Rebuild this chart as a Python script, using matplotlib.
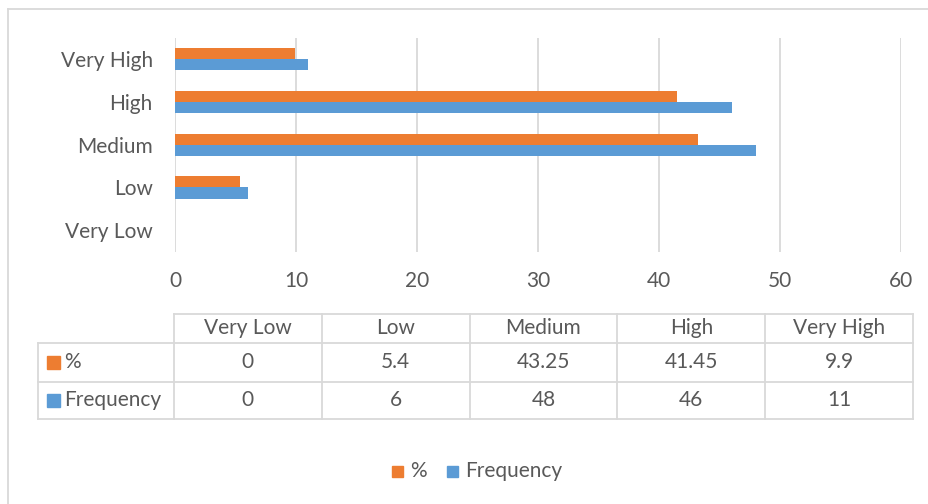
import numpy as np
import matplotlib.pyplot as plt
from matplotlib.patches import Rectangle

categories = ["Very Low", "Low", "Medium", "High", "Very High"]
pct = [0, 5.4, 43.25, 41.45, 9.9]
freq = [0, 6, 48, 46, 11]
pct_labels = ["0", "5.4", "43.25", "41.45", "9.9"]
freq_labels = ["0", "6", "48", "46", "11"]

orange = "#ED7D31"
blue = "#5B9BD5"
grey_txt = "#595959"
grid_c = "#D9D9D9"
plt.rcParams['font.family'] = ['Lato', 'DejaVu Sans']

W, H = 929, 504
fig = plt.figure(figsize=(W / 100, H / 100), dpi=100)

# overlay in pixel coords for frame, table and legend
ov = fig.add_axes([0, 0, 1, 1])
ov.set_xlim(0, W)
ov.set_ylim(H, 0)
ov.axis("off")

fs = 15

ax = fig.add_axes([175 / W, (H - 251.5) / H, 726 / W, 213.5 / H])
y = np.arange(len(categories))
h = 0.26
ax.barh(y + h / 2, pct, height=h, color=orange, zorder=3)
ax.barh(y - h / 2, freq, height=h, color=blue, zorder=3)
ax.set_xlim(0, 60)
ax.set_ylim(-0.5, len(categories) - 0.5)
ax.set_xticks(range(0, 61, 10))
ax.set_yticks(y)
ax.set_yticklabels(categories)
ax.xaxis.grid(True, color=grid_c, linewidth=1.3, zorder=0)
for s in ax.spines.values():
    s.set_visible(False)
ax.tick_params(length=0, labelsize=fs, labelcolor=grey_txt)
ax.tick_params(axis="x", pad=14)
ax.tick_params(axis="y", pad=16)

# outer chart frame (top and left edges fall inside the canvas)
ov.plot([8, W + 5], [9, 9], color=grid_c, lw=1.3)
ov.plot([8, 8], [9, H + 5], color=grid_c, lw=1.3)

# data table
col_x = np.linspace(174, 913, len(categories) + 1)
row_y = [314, 343, 381.5, 419]
lc = "#D9D9D9"
ov.plot([col_x[0], col_x[-1]], [row_y[0], row_y[0]], color=lc, lw=1.3)
for ry in row_y[1:]:
    ov.plot([38, col_x[-1]], [ry, ry], color=lc, lw=1.3)
for cx in col_x:
    ov.plot([cx, cx], [row_y[0], row_y[-1]], color=lc, lw=1.3)
ov.plot([38, 38], [row_y[1], row_y[-1]], color=lc, lw=1.3)

for i, cat in enumerate(categories):
    cx = (col_x[i] + col_x[i + 1]) / 2
    ov.text(cx, (row_y[0] + row_y[1]) / 2, cat, ha="center", va="center",
            fontsize=fs, color=grey_txt)
    ov.text(cx, (row_y[1] + row_y[2]) / 2, pct_labels[i], ha="center", va="center",
            fontsize=fs, color=grey_txt)
    ov.text(cx, (row_y[2] + row_y[3]) / 2, freq_labels[i], ha="center", va="center",
            fontsize=fs, color=grey_txt)

for (ry0, ry1), name, c in [((row_y[1], row_y[2]), "%", orange),
                            ((row_y[2], row_y[3]), "Frequency", blue)]:
    cy = (ry0 + ry1) / 2
    ov.add_patch(Rectangle((47, cy - 6.5), 13, 13, color=c))
    ov.text(64, cy, name, ha="left", va="center", fontsize=fs, color=grey_txt)

# legend
ly = 471
ov.add_patch(Rectangle((392, ly - 5.5), 11, 11, color=orange))
ov.text(410, ly, "%", ha="left", va="center", fontsize=fs, color=grey_txt)
ov.add_patch(Rectangle((447, ly - 5.5), 11, 11, color=blue))
ov.text(465, ly, "Frequency", ha="left", va="center", fontsize=fs, color=grey_txt)

fig.savefig("out.png", dpi=100)
